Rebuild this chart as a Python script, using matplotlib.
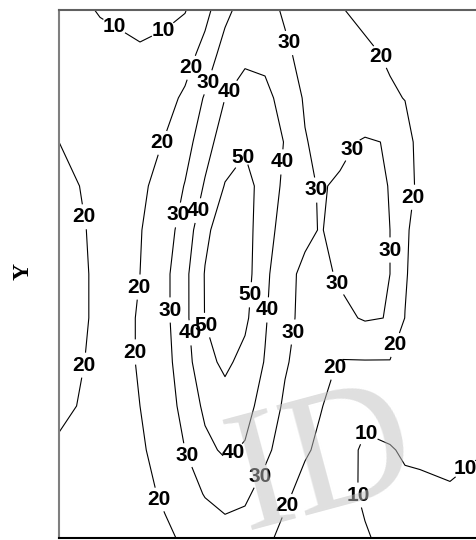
import numpy as np
import matplotlib
matplotlib.use("Agg")
import matplotlib.pyplot as plt

# grid positions (x across, y up)
x_grid = [0, 41, 81, 106, 126, 146, 166, 186, 206, 226, 246, 261, 281, 306, 331, 346, 361, 391, 417]
y_grid = [0, 44, 88, 132, 176, 220, 264, 308, 352, 396, 440, 484, 528]

# values per row, bottom to top
z_y0   = [16.5, 16, 17, 18.8, 21, 24.5, 26.5, 26, 22, 17.5, 14.5, 13, 11.5, 10.5, 8.5, 8, 8, 8.5, 8.5]
z_y44  = [17.5, 16.5, 18, 21, 26, 30.5, 33, 31.5, 26.5, 21.5, 17, 14.5, 12, 9.2, 7.5, 8.5, 9, 9.6, 9]
z_y88  = [19, 17.5, 19, 23, 30, 37.5, 41.5, 39, 32, 26, 21, 18.5, 14, 8.5, 9.5, 10.8, 10.8, 11, 10.3]
z_y132 = [21.5, 18, 20, 25.5, 33, 42, 46, 43.5, 36, 28.5, 24, 20.5, 17, 12.5, 13.5, 14, 14, 13, 12.5]
z_y176 = [22.5, 18.5, 20.2, 26.5, 36, 47, 52, 47, 39.5, 31, 26, 22.5, 19.5, 19.5, 19.5, 18, 15, 13.5, 13]
z_y220 = [24, 18.5, 20.2, 27.5, 37.5, 50.3, 55, 52, 41, 32, 28, 27, 28, 30.8, 29.7, 19.8, 14, 14, 13.5]
z_y264 = [24, 18.5, 20, 27.5, 37.5, 50.5, 56, 54, 42.5, 32, 28.5, 28, 31, 32.5, 30, 21, 15, 14.5, 14]
z_y308 = [23, 18.5, 19.5, 26, 34, 48, 55, 54, 44, 36, 31.5, 29.7, 31.5, 32.5, 30, 21.5, 16, 15, 14.5]
z_y352 = [22, 18, 18.5, 23, 30.5, 41, 50.5, 53.5, 46, 38, 31.5, 29.5, 30.8, 32, 29.8, 23.5, 18, 15.5, 15]
z_y396 = [20, 17, 16, 20.5, 26, 36, 45, 48.5, 46, 39.5, 30.5, 28, 28.5, 30.8, 29.5, 23, 17.5, 15.5, 15]
z_y440 = [17, 15, 14, 17, 21.5, 31, 40, 44, 43, 36, 29, 27, 25.5, 23.5, 21, 19.8, 18, 16.5, 15.5]
z_y484 = [15, 13, 11.5, 12.5, 16, 23.3, 34.5, 38, 37, 32, 26.5, 25, 23.5, 21.5, 19, 18, 17, 16, 15.5]
z_y528 = [14, 9.4, 6, 8, 9.5, 17, 27, 35, 34, 28.5, 25, 23, 20.5, 18, 16.5, 16, 15.5, 15, 15]

levels = [10, 20, 30, 40, 50]

# where the labels sit
label_pos = [
    (54, 510), (108, 500), (310, 111), (300, 43), (396, 82),
    (133, 470), (104, 395), (24, 321), (24, 173), (79, 251), (77, 186),
    (104, 40), (325, 483), (352, 341), (342, 191), (274, 171), (226, 33),
    (148, 456), (119, 323), (111, 228), (124, 81), (202, 61), (234, 206),
    (257, 348), (230, 495), (299, 385), (330, 288), (275, 253),
    (169, 448), (136, 328), (129, 205), (174, 86), (210, 228), (224, 376),
    (181, 383), (148, 213), (194, 243),
]

Z = np.array([z_y0, z_y44, z_y88, z_y132, z_y176, z_y220, z_y264,
              z_y308, z_y352, z_y396, z_y440, z_y484, z_y528])

plt.rcParams["font.family"] = ["Liberation Sans", "DejaVu Sans"]
plt.rcParams["font.weight"] = "bold"

fig = plt.figure(figsize=(4.76, 5.4), dpi=100)
ax = fig.add_axes([59 / 476, 2 / 540, 417 / 476, 528 / 540])

cs = ax.contour(x_grid, y_grid, Z, levels=levels, colors="black", linewidths=0.8)
labels = ax.clabel(cs, levels, manual=label_pos, inline=True, fmt="%d",
                   fontsize=15, inline_spacing=1)
for t in labels:
    t.set_rotation(0)
    t.set_fontweight("heavy")

ax.set_xlim(0, 417)
ax.set_ylim(0, 528)
ax.set_xticks([])
ax.set_yticks([])
ax.spines["right"].set_visible(False)
ax.spines["left"].set_color("#7f7f7f")
ax.spines["top"].set_color("#606060")
ax.spines["bottom"].set_color("black")
for s in ["left", "top", "bottom"]:
    ax.spines[s].set_linewidth(1.5)

# faint watermark
ax.text(264, 72, "ID", fontsize=125, family="Liberation Serif", fontweight="normal",
        color="#c0c0c0", alpha=0.5, rotation=15, ha="center", va="center",
        zorder=5, clip_on=True)

fig.text(23 / 476, 1 - 272 / 540, "Y", rotation=90, ha="center", va="center",
         fontsize=17, fontweight="bold", family="Liberation Serif")

fig.savefig("out.png", dpi=100)
